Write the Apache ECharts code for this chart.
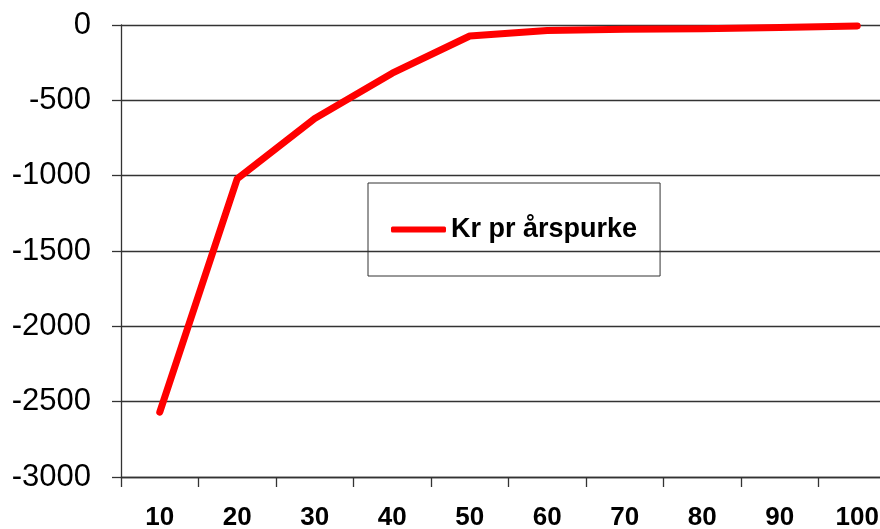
<!DOCTYPE html>
<html>
<head>
<meta charset="utf-8">
<script src="https://cdn.jsdelivr.net/npm/echarts@6/dist/echarts.min.js"></script>
<style>
html,body{margin:0;padding:0;background:#fff;}
#c{width:880px;height:529px;}
</style>
</head>
<body>
<div id="c"></div>
<script>
var categories = ['10','20','30','40','50','60','70','80','90','100'];
var seriesName = 'Kr pr årspurke';
var values = [-2570, -1020, -620, -320, -73, -37, -29, -25, -16, -6];
var yMin = -3000, yMax = 0, yStep = 500;

var chart = echarts.init(document.getElementById('c'), null, {renderer:'canvas'});
chart.setOption({
  animation: false,
  backgroundColor: '#ffffff',
  grid: { left: 121, top: 25, width: 775, height: 452, containLabel: false, outerBoundsMode: 'none' },
  legend: {
    show: true,
    left: 368, top: 183,
    padding: [33, 23, 33, 23],
    borderColor: '#333',
    borderWidth: 1,
    icon: 'roundRect',
    itemWidth: 55,
    itemHeight: 6,
    itemStyle: { color: '#ff0000' },
    textStyle: { fontFamily: 'Liberation Sans, Arial, sans-serif', fontSize: 27, fontWeight: 'bold', color: '#000' },
    data: [seriesName]
  },
  xAxis: {
    type: 'category',
    data: categories,
    boundaryGap: true,
    axisLine: { show: true, onZero: false, lineStyle: { color: '#333', width: 1.3 } },
    axisTick: { show: true, length: 10, lineStyle: { color: '#333', width: 1.3 } },
    axisLabel: { margin: 28, fontFamily: 'Liberation Sans, Arial, sans-serif', fontSize: 26, fontWeight: 'bold', color: '#000' },
    splitLine: { show: false }
  },
  yAxis: {
    type: 'value',
    min: yMin, max: yMax, interval: yStep,
    axisLine: { show: true, lineStyle: { color: '#333', width: 1.3 } },
    axisTick: { show: true, length: 9, lineStyle: { color: '#333', width: 1.3 } },
    axisLabel: { margin: 30, fontFamily: 'Liberation Sans, Arial, sans-serif', fontSize: 31, color: '#000',
      formatter: function (v) { return String(v); } },
    splitLine: { show: true, lineStyle: { color: '#333', width: 1.3 } }
  },
  series: [{
    name: seriesName,
    type: 'line',
    data: values,
    symbol: 'none',
    lineStyle: { color: '#ff0000', width: 7, cap: 'round', join: 'round' },
    itemStyle: { color: '#ff0000' }
  }]
});
</script>
</body>
</html>
